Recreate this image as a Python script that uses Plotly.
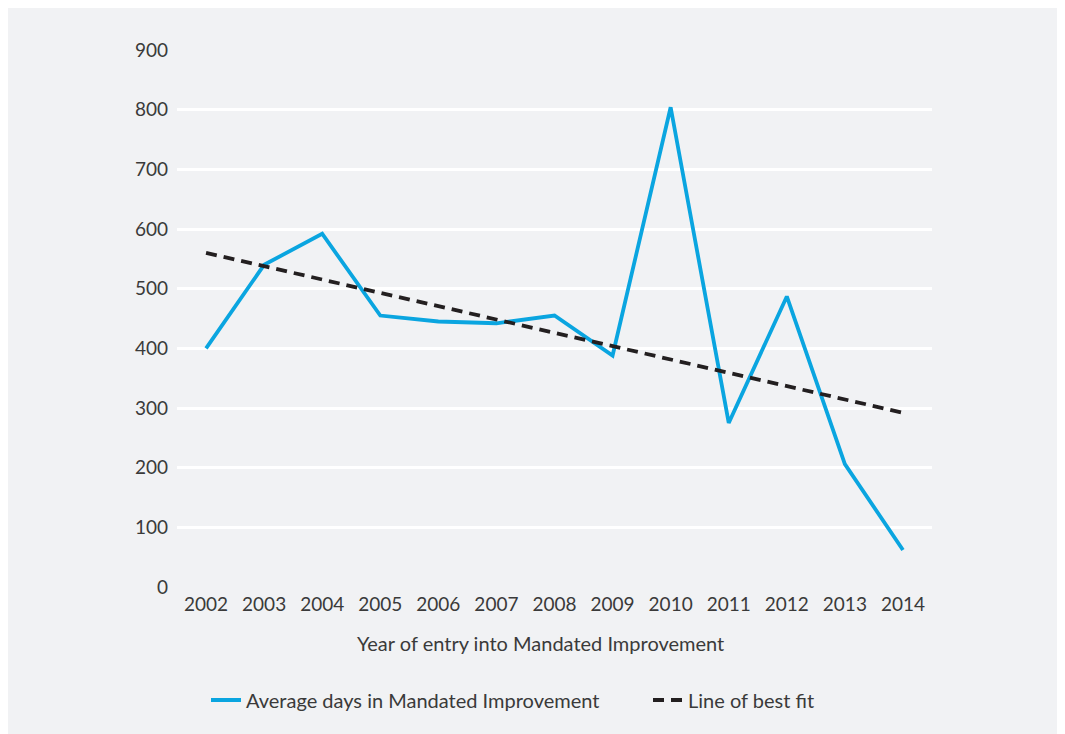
import plotly.graph_objects as go

years = ["2002", "2003", "2004", "2005", "2006", "2007", "2008",
         "2009", "2010", "2011", "2012", "2013", "2014"]
avg_days = [400, 540, 592, 455, 445, 442, 455, 388, 804, 275, 487, 206, 62]
fit_years = ["2002", "2014"]
fit_values = [560, 292]
y_ticks = [0, 100, 200, 300, 400, 500, 600, 700, 800, 900]

BG = "#f1f2f4"
TXT = "#3a3a3a"
FONT = "Lato"

fig = go.Figure()
fig.add_trace(go.Scatter(
    x=years, y=avg_days, mode="lines",
    name="Average days in Mandated Improvement",
    line=dict(color="#0aa5e0", width=3.8),
    legendwidth=397,
))
fig.add_trace(go.Scatter(
    x=fit_years, y=fit_values, mode="lines",
    name="Line of best fit",
    line=dict(color="#231f20", width=3.8, dash="11px,7px"),
    legendwidth=150,
))

W, H = 1065, 734
L, T = 169, 42
plot_right, plot_bottom = 924, 579
R, B = W - plot_right, H - plot_bottom
pw, ph = W - L - R, H - T - B
bottom = T + ph

fig.update_layout(
    width=W, height=H,
    margin=dict(l=L, r=R, t=T, b=B),
    paper_bgcolor=BG,
    plot_bgcolor=BG,
    font=dict(family=FONT, size=19, color=TXT),
    showlegend=True,
    legend=dict(
        orientation="h", x=(198 - L) / pw, xanchor="left",
        y=(bottom - 692) / ph, yanchor="middle",
        bgcolor="rgba(0,0,0,0)", font=dict(size=20, color=TXT),
    ),
    xaxis=dict(
        type="category", range=[-0.5, 12.5], showgrid=False,
        zeroline=False, showline=False, ticks="",
        ticklabelstandoff=4,
    ),
    yaxis=dict(
        range=[0, 900], tickvals=y_ticks, showgrid=True,
        gridcolor="white", gridwidth=3, zeroline=False,
        showline=False, ticks="", ticklabelstandoff=8,
    ),
    annotations=[dict(
        text="Year of entry into Mandated Improvement",
        xref="paper", yref="paper",
        x=(532 - L) / pw, y=(bottom - 635) / ph,
        xanchor="center", yanchor="middle", showarrow=False,
        font=dict(size=20, color=TXT, family=FONT),
    )],
)

fig.write_html("out.html")
